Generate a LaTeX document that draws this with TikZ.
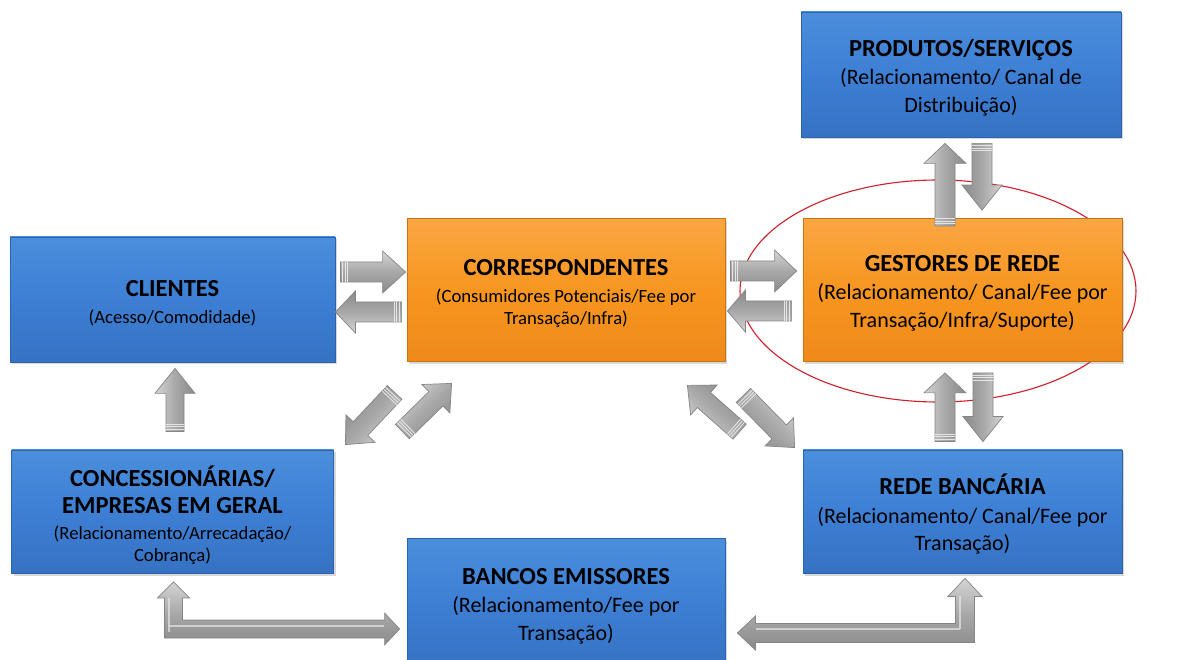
\documentclass[tikz,border=0pt]{standalone}
\usepackage{fontspec}
\setmainfont{Carlito}
\usetikzlibrary{calc,shadows}

\definecolor{bluetop}{HTML}{4B8EDC}
\definecolor{bluemid}{HTML}{3D7FD4}
\definecolor{bluebot}{HTML}{3672C3}
\definecolor{blueedge}{HTML}{2D63AA}
\definecolor{orangetop}{HTML}{FBA643}
\definecolor{orangemid}{HTML}{F7961F}
\definecolor{orangebot}{HTML}{EF8A1B}
\definecolor{orangeedge}{HTML}{C8751A}
\definecolor{ringred}{HTML}{D01F2A}
\definecolor{arrowedge}{HTML}{858585}
\definecolor{arrowhi}{HTML}{D4D4D4}
\definecolor{arrowmid}{HTML}{A8A8A8}
\definecolor{arrowlo}{HTML}{8A8A8A}

\newcommand\ttl[1]{{\fontsize{24.5}{29}\selectfont\bfseries #1}}
\newcommand\subS{\fontsize{18.7}{22.5}\selectfont}
\newcommand\subL{\fontsize{22}{27.5}\selectfont}

% straight block arrow: tail, tip, shaft half width, head half width, head length, direction angle
\newcommand\blockarrow[6]{%
  \coordinate (bah) at ($(#2)!#5pt!(#1)$);
  \coordinate (bar1) at ($(#1)!2.5pt!(#2)$);
  \coordinate (bar2) at ($(#1)!5pt!(#2)$);
  \coordinate (bar3) at ($(#1)!7.5pt!(#2)$);
  \path[arrowbody, shading angle=#6] ($(#1)!#3pt!90:(#2)$) -- ($(bah)!#3pt!90:(#2)$)
    -- ($(bah)!#4pt!90:(#2)$) -- (#2) -- ($(bah)!#4pt!-90:(#2)$)
    -- ($(bah)!#3pt!-90:(#2)$) -- ($(#1)!#3pt!-90:(#2)$) -- cycle;
  \draw[ridge] ($(bar1)!#3pt!90:(#2)$) -- ($(bar1)!#3pt!-90:(#2)$);
  \draw[ridge] ($(bar2)!#3pt!90:(#2)$) -- ($(bar2)!#3pt!-90:(#2)$);
  \draw[ridge] ($(bar3)!#3pt!90:(#2)$) -- ($(bar3)!#3pt!-90:(#2)$);
}

\tikzset{
  panel/.style={rectangle, draw=#1, line width=0.8pt,
    drop shadow={opacity=0.3, shadow xshift=2pt, shadow yshift=-2.5pt}},
  bluepanel/.style={panel=blueedge, top color=bluetop, bottom color=bluebot, middle color=bluemid},
  orangepanel/.style={panel=orangeedge, top color=orangetop, bottom color=orangebot, middle color=orangemid},
  paneltext/.style={align=center, inner sep=0pt, text=black},
  arrowbody/.style={draw=arrowedge, line width=0.7pt, line join=miter,
    top color=arrowhi, bottom color=arrowlo, middle color=arrowmid},
  ridge/.style={draw=white!80!gray, line width=0.9pt},
}

\begin{document}
\begin{tikzpicture}[x=1pt,y=-1pt]
\useasboundingbox (0,0) rectangle (1179,660);
\fill[white] (0,0) rectangle (1179,660);

% ring around the network managers
\draw[ringred, line width=1.1pt] (938,291) ellipse [x radius=198, y radius=111];

% boxes
\node[bluepanel, minimum width=320pt, minimum height=125pt] (prod) at (961,74.5) {};
\node[bluepanel, minimum width=325pt, minimum height=125pt] (cli) at (172.5,299.5) {};
\node[orangepanel, minimum width=318pt, minimum height=143pt] (corr) at (566,290) {};
\node[orangepanel, minimum width=319pt, minimum height=143pt] (gest) at (962.5,290) {};
\node[bluepanel, minimum width=322pt, minimum height=123pt] (conc) at (172.5,511.5) {};
\node[bluepanel, minimum width=319pt, minimum height=123pt] (rede) at (962.5,511.5) {};
\node[bluepanel, minimum width=318pt, minimum height=130pt] (banc) at (566,603) {};

% box texts
\node[paneltext, font=\subL] (prodtxt) at ($(prod.center)+(0,3)$)
  {\ttl{PRODUTOS/SERVIÇOS}\\[1pt](Relacionamento/ Canal de\\Distribuição)};
\node[paneltext, font=\subS] (clitxt) at ($(cli.center)+(0,4)$)
  {\ttl{CLIENTES}\\[4pt](Acesso/Comodidade)};
\node[paneltext, font=\subS] (corrtxt) at ($(corr.center)+(0,4)$)
  {\ttl{CORRESPONDENTES}\\[4pt](Consumidores Potenciais/Fee por\\Transação/Infra)};
\node[paneltext, font=\subL] (gesttxt) at ($(gest.center)+(0,3)$)
  {\ttl{GESTORES DE REDE}\\[1pt](Relacionamento/ Canal/Fee por\\Transação/Infra/Suporte)};
\node[paneltext, font=\subS] (conctxt) at ($(conc.center)+(0,4)$)
  {\ttl{CONCESSIONÁRIAS/}\\[5pt]\ttl{EMPRESAS EM GERAL}\\[3pt](Relacionamento/Arrecadação/\\Cobrança)};
\node[paneltext, font=\subL] (redetxt) at ($(rede.center)+(0,3)$)
  {\ttl{REDE BANCÁRIA}\\[1pt](Relacionamento/ Canal/Fee por\\Transação)};
\node[paneltext, font=\subL] (banctxt) at ($(banc.center)+(0,3)$)
  {\ttl{BANCOS EMISSORES}\\[1pt](Relacionamento/Fee por\\Transação)};

% arrow end points
\coordinate (a1t) at ($(cli.east)+(5,-27.5)$);
\coordinate (a1h) at ($(corr.west)+(-1,-18)$);
\coordinate (a2t) at ($(corr.west)+(-5,22)$);
\coordinate (a2h) at ($(cli.east)+(0,12.5)$);
\coordinate (a3t) at ($(corr.east)+(5,-19)$);
\coordinate (a3h) at ($(gest.west)+(-6,-19)$);
\coordinate (a4t) at ($(gest.west)+(-11,21)$);
\coordinate (a4h) at ($(corr.east)+(2,21)$);
\coordinate (a5t) at ($(gest.north)+(-17.5,8)$);
\coordinate (a5h) at ($(prod.south)+(-16,6)$);
\coordinate (a6t) at ($(prod.south)+(21,6)$);
\coordinate (a6h) at ($(gest.north)+(19.5,-8)$);
\coordinate (a7t) at ($(rede.north)+(-17.5,-8)$);
\coordinate (a7h) at ($(gest.south)+(-17.5,11)$);
\coordinate (a8t) at ($(gest.south)+(20.5,11)$);
\coordinate (a8h) at ($(rede.north)+(20.5,-8)$);
\coordinate (a9t) at ($(conc.north)+(2.5,-18)$);
\coordinate (a9h) at ($(cli.south)+(2.5,6)$);
\coordinate (b1t) at ($(corr.south west)+(-12,30.5)$);
\coordinate (b1h) at ($(conc.north east)+(11.5,-5)$);
\coordinate (b2t) at ($(conc.north east)+(68.5,-18)$);
\coordinate (b2h) at ($(corr.south west)+(45,21.5)$);
\coordinate (b3t) at ($(rede.north west)+(-63,-18)$);
\coordinate (b3h) at ($(corr.south east)+(-38,23.5)$);
\coordinate (b4t) at ($(corr.south east)+(18,33.5)$);
\coordinate (b4h) at ($(rede.north west)+(-8,-2)$);

\blockarrow{a1t}{a1h}{10}{21}{23}{0}
\blockarrow{a2t}{a2h}{10}{21}{20}{180}
\blockarrow{a3t}{a3h}{10}{21}{22}{0}
\blockarrow{a4t}{a4h}{10}{21}{18}{180}
\blockarrow{a5t}{a5h}{10}{21}{20}{90}
\blockarrow{a6t}{a6h}{10}{20}{25}{-90}
\blockarrow{a7t}{a7h}{10}{21}{20}{90}
\blockarrow{a8t}{a8h}{10}{20}{25}{-90}
\blockarrow{a9t}{a9h}{9}{20}{25}{90}
\blockarrow{b1t}{b1h}{10}{20}{22}{-133}
\blockarrow{b2t}{b2h}{10}{20}{22}{44}
\blockarrow{b3t}{b3h}{10}{20}{22}{138}
\blockarrow{b4t}{b4h}{10}{20}{22}{-45}

% elbow arrow: concessionárias <-> bancos emissores
\coordinate (e1u) at ($(conc.south)+(1,8.5)$);
\coordinate (e1r) at ($(banc.west)+(-7,26)$);
\coordinate (e1k) at (e1u |- e1r);
\path[arrowbody] ($(e1k)+(-9,9)$) -- ($(e1u)+(-9,16)$) -- ($(e1u)+(-16,16)$) -- (e1u)
  -- ($(e1u)+(16,16)$) -- ($(e1u)+(9,16)$) -- ($(e1k)+(9,-9)$) -- ($(e1r)+(-15,-9)$)
  -- ($(e1r)+(-15,-16)$) -- (e1r) -- ($(e1r)+(-15,16)$) -- ($(e1r)+(-15,9)$) -- cycle;
\draw[ridge, draw opacity=0.7, line width=2pt] ($(e1k)+(-5,-3)$) -- ($(e1r)+(-16,-3)$);
\draw[ridge, draw opacity=0.7, line width=2pt] ($(e1k)+(-5,3)$) -- ($(e1u)+(-5,16)$);

% elbow arrow: rede bancária <-> bancos emissores
\coordinate (e2u) at ($(rede.south)+(2.5,5)$);
\coordinate (e2l) at ($(banc.east)+(12,30)$);
\coordinate (e2k) at (e2u |- e2l);
\path[arrowbody] ($(e2k)+(9.5,9.5)$) -- ($(e2u)+(9.5,18)$) -- ($(e2u)+(17,18)$) -- (e2u)
  -- ($(e2u)+(-17,18)$) -- ($(e2u)+(-9.5,18)$) -- ($(e2k)+(-9.5,-9.5)$) -- ($(e2l)+(18,-9.5)$)
  -- ($(e2l)+(18,-17)$) -- (e2l) -- ($(e2l)+(18,17)$) -- ($(e2l)+(18,9.5)$) -- cycle;
\draw[ridge, draw opacity=0.7, line width=2pt] ($(e2k)+(-5,-4)$) -- ($(e2l)+(19,-4)$);
\draw[ridge, draw opacity=0.7, line width=2pt] ($(e2k)+(-5,-4)$) -- ($(e2u)+(-5,18)$);
\end{tikzpicture}
\end{document}
